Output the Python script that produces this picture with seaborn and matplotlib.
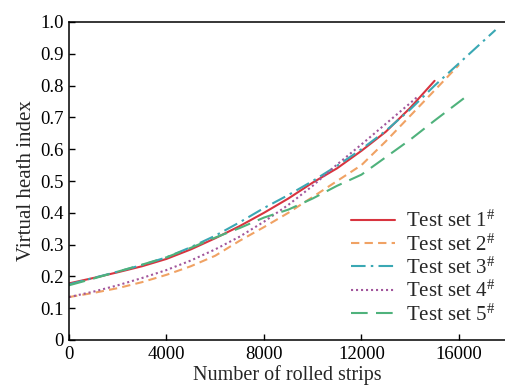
import matplotlib
matplotlib.use("Agg")
import matplotlib.pyplot as plt
import seaborn as sns
import pandas as pd

# values
strips_1 = [0, 1000, 2000, 3000, 4000, 5000, 6000, 7000, 8000, 9000, 10000,
            11000, 12000, 13000, 14000, 15000]
index_1 = [0.178, 0.195, 0.213, 0.232, 0.255, 0.285, 0.320, 0.358, 0.400,
           0.445, 0.495, 0.540, 0.595, 0.655, 0.730, 0.815]

strips_2 = [0, 1000, 2000, 3000, 4000, 5000, 6000, 7000, 8000, 9000, 10000,
            11000, 12000, 13000, 14000, 15000, 16000]
index_2 = [0.135, 0.148, 0.163, 0.182, 0.205, 0.232, 0.265, 0.312, 0.355,
           0.400, 0.450, 0.500, 0.550, 0.625, 0.705, 0.785, 0.865]

strips_3 = [0, 1000, 2000, 3000, 4000, 5000, 6000, 7000, 8000, 9000, 10000,
            11000, 12000, 13000, 14000, 15000, 16000, 17000, 17500]
index_3 = [0.175, 0.195, 0.215, 0.236, 0.260, 0.292, 0.328, 0.370, 0.415,
           0.456, 0.500, 0.548, 0.600, 0.658, 0.725, 0.800, 0.870, 0.940, 0.975]

strips_4 = [0, 1000, 2000, 3000, 4000, 5000, 6000, 7000, 8000, 9000, 10000,
            11000, 12000, 13000, 14000, 14300]
index_4 = [0.135, 0.152, 0.172, 0.195, 0.220, 0.250, 0.285, 0.325, 0.372,
           0.425, 0.485, 0.552, 0.615, 0.680, 0.745, 0.765]

strips_5 = [0, 1000, 2000, 3000, 4000, 5000, 6000, 7000, 8000, 9000, 10000,
            11000, 12000, 13000, 14000, 15000, 16200]
index_5 = [0.172, 0.193, 0.215, 0.237, 0.260, 0.290, 0.322, 0.352, 0.385,
           0.410, 0.445, 0.485, 0.520, 0.575, 0.630, 0.690, 0.760]

labels = [r"Test set 1$^{\#}$", r"Test set 2$^{\#}$", r"Test set 3$^{\#}$",
          r"Test set 4$^{\#}$", r"Test set 5$^{\#}$"]
colors = ["#d8343f", "#f0a264", "#3aa8b4", "#a2579c", "#4fb27c"]
dashes = ["", (4, 2.5), (7, 2.5, 1.2, 2.5), (1, 1.4), (8, 4)]

xs = [strips_1, strips_2, strips_3, strips_4, strips_5]
ys = [index_1, index_2, index_3, index_4, index_5]
frames = []
for lab, x, y in zip(labels, xs, ys):
    frames.append(pd.DataFrame({"strips": x, "index": y, "set": lab}))
df = pd.concat(frames, ignore_index=True)

sns.set_style("ticks")
plt.rcParams["font.family"] = ["Liberation Serif", "DejaVu Serif"]
plt.rcParams["mathtext.fontset"] = "custom"
plt.rcParams["mathtext.rm"] = "Liberation Serif"
plt.rcParams["mathtext.it"] = "Liberation Serif:italic"

fig = plt.figure(figsize=(5.06, 3.88), dpi=100)
ax = fig.add_axes([69 / 506, 48 / 388, 437 / 506, 318 / 388])

sns.lineplot(data=df, x="strips", y="index", hue="set", style="set",
             palette=dict(zip(labels, colors)), dashes=dict(zip(labels, dashes)),
             linewidth=1.5, ax=ax, sort=False)

ax.set_xlim(0, 17930)
ax.set_ylim(0, 1.0)
ax.set_xticks([0, 4000, 8000, 12000, 16000])
ax.set_yticks([i / 10 for i in range(11)])
ax.set_yticklabels(["0"] + [f"{i / 10:.1f}" for i in range(1, 11)])
ax.tick_params(direction="in", length=4, width=1, labelsize=13.5,
               colors="black", pad=4)
ax.spines["right"].set_visible(False)
for s in ["left", "bottom", "top"]:
    ax.spines[s].set_linewidth(1.1)
    ax.spines[s].set_color("black")

ax.set_xlabel("Number of rolled strips", fontsize=14.5, labelpad=2)
ax.set_ylabel("Virtual heath index", fontsize=15, labelpad=3)

ax.legend(loc="lower right", frameon=False, fontsize=15, handlelength=2.1,
          handletextpad=0.55, labelspacing=0.1, borderaxespad=0.0,
          bbox_to_anchor=(0.995, 0.02))

fig.savefig("out.png", dpi=100)
